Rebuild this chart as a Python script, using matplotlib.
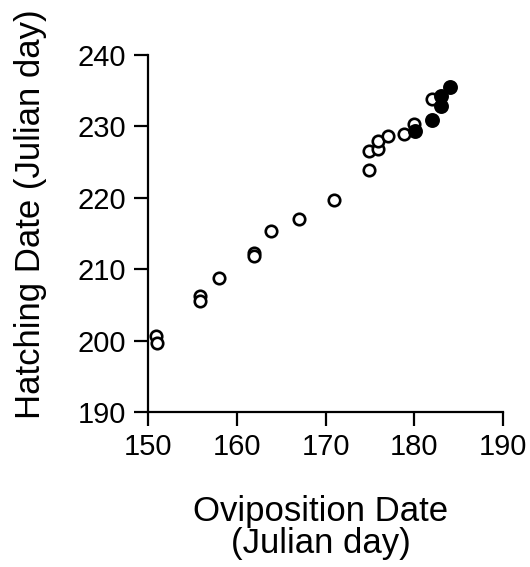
import matplotlib.pyplot as plt

# open circles
ovi_open = [150.9, 151.0, 155.9, 155.9, 158.0, 161.9, 161.9, 163.9, 167.0, 171.0,
            174.9, 174.9, 175.9, 175.9, 177.0, 178.9, 180.0, 182.0]
hatch_open = [200.6, 199.7, 206.3, 205.5, 208.8, 212.3, 211.9, 215.4, 217.0, 219.7,
              223.9, 226.6, 226.9, 228.0, 228.7, 229.0, 230.4, 233.8]
# filled circles
ovi_fill = [180.1, 182.0, 183.0, 183.0, 184.0]
hatch_fill = [229.3, 230.9, 234.2, 232.8, 235.5]

plt.rcParams['font.family'] = ['Liberation Sans', 'DejaVu Sans']

fig = plt.figure(figsize=(5.3, 5.67), dpi=100)
# axes box: x 148..503 px, y 55..412 px
ax = fig.add_axes([148/530, 1-412/567, 355/530, 357/567])

ax.scatter(ovi_open, hatch_open, s=68, facecolors='white', edgecolors='black',
           linewidths=1.9, zorder=3)
ax.scatter(ovi_fill, hatch_fill, s=78, facecolors='black', edgecolors='black',
           linewidths=1.9, zorder=4)

ax.set_xlim(150, 190)
ax.set_ylim(190, 240)
ax.set_xticks([150, 160, 170, 180, 190])
ax.set_yticks([190, 200, 210, 220, 230, 240])
ax.spines['top'].set_visible(False)
ax.spines['right'].set_visible(False)
for s in ['left', 'bottom']:
    ax.spines[s].set_linewidth(1.6)
ax.tick_params(direction='out', length=10, width=1.6, labelsize=21)
ax.tick_params(axis='x', pad=5)
ax.tick_params(axis='y', pad=6)

fig.text(31/530, 1-214/567, 'Hatching Date (Julian day)', rotation=90, fontsize=25,
         ha='center', va='center')
fig.text(321/530, 1-521/567, 'Oviposition Date', fontsize=25,
         ha='center', va='baseline')
fig.text(321/530, 1-553/567, '(Julian day)', fontsize=25,
         ha='center', va='baseline')

fig.savefig('out.png', dpi=100)
